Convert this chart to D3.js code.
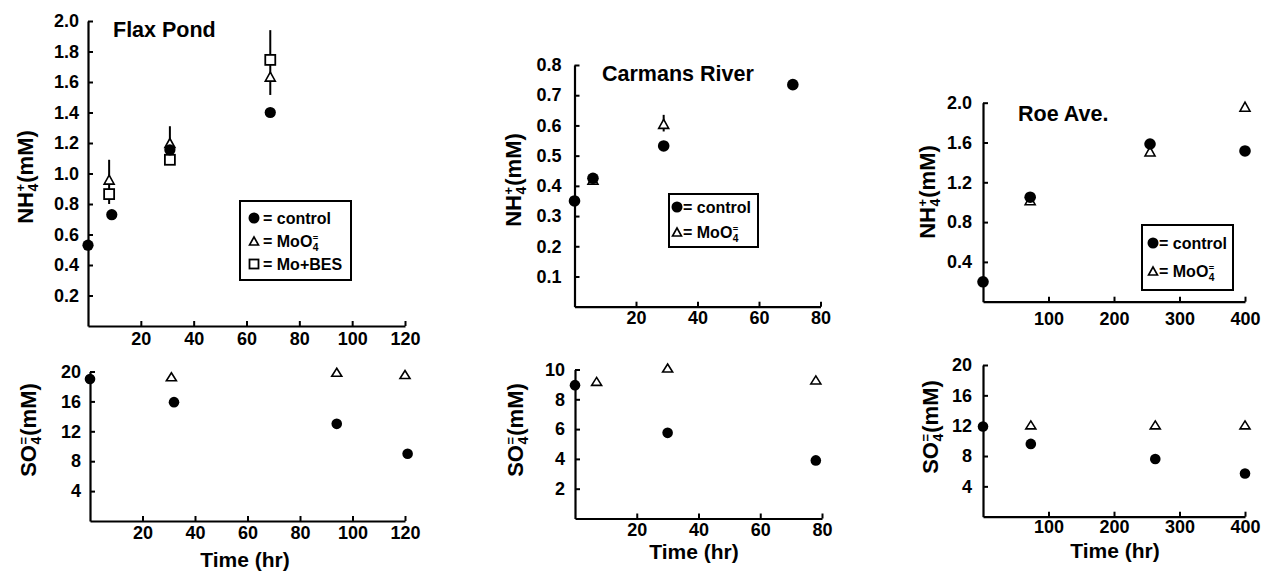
<!DOCTYPE html>
<html><head><meta charset="utf-8">
<script src="https://cdn.jsdelivr.net/npm/d3@7"></script>
<style>
body{margin:0;background:#fff}
svg{display:block;font-family:"Liberation Sans",Arial,sans-serif;font-weight:bold}
</style></head><body>
<svg id="c" width="1267" height="574"></svg>
<script>
// ---------------- data ----------------
// Flax Pond – NH4+
const flaxNH4ControlTime = [0, 9, 31, 69];
const flaxNH4Control     = [0.53, 0.73, 1.155, 1.40];
const flaxNH4MoTime      = [8, 31, 69];
const flaxNH4Mo          = [0.96, 1.20, 1.635];
const flaxNH4BesTime     = [8, 31, 69];
const flaxNH4Bes         = [0.865, 1.09, 1.745];
const flaxNH4ErrTime     = [8, 31, 69];
const flaxNH4ErrLow      = [0.80, 1.20, 1.515];
const flaxNH4ErrHigh     = [1.09, 1.31, 1.94];
// Carmans River – NH4+
const carNH4ControlTime = [0, 6, 29, 71];
const carNH4Control     = [0.35, 0.425, 0.532, 0.735];
const carNH4MoTime      = [6, 29];
const carNH4Mo          = [0.42, 0.605];
const carNH4ErrTime     = [29];
const carNH4ErrLow      = [0.58];
const carNH4ErrHigh     = [0.635];
// Roe Ave. – NH4+
const roeNH4ControlTime = [0, 72, 255, 400];
const roeNH4Control     = [0.20, 1.05, 1.585, 1.515];
const roeNH4MoTime      = [72, 255, 400];
const roeNH4Mo          = [1.02, 1.51, 1.96];
// Flax Pond – SO4=
const flaxSO4ControlTime = [0, 32, 94, 121];
const flaxSO4Control     = [19.0, 15.9, 13.0, 9.0];
const flaxSO4MoTime      = [31, 94, 120];
const flaxSO4Mo          = [19.3, 19.9, 19.6];
// Carmans River – SO4=
const carSO4ControlTime = [0, 30, 78];
const carSO4Control     = [8.95, 5.75, 3.9];
const carSO4MoTime      = [7, 30, 78];
const carSO4Mo          = [9.2, 10.1, 9.3];
// Roe Ave. – SO4=
const roeSO4ControlTime = [0, 73, 263, 400];
const roeSO4Control     = [11.9, 9.6, 7.6, 5.7];
const roeSO4MoTime      = [73, 263, 400];
const roeSO4Mo          = [12.1, 12.1, 12.1];
// tick values
const flaxXTicks    = [20, 40, 60, 80, 100, 120];
const carXTicks     = [20, 40, 60, 80];
const roeXTicks     = [100, 200, 300, 400];
const flaxNH4YTicks = [0.2, 0.4, 0.6, 0.8, 1.0, 1.2, 1.4, 1.6, 1.8, 2.0];
const carNH4YTicks  = [0.1, 0.2, 0.3, 0.4, 0.5, 0.6, 0.7, 0.8];
const roeNH4YTicks  = [0.4, 0.8, 1.2, 1.6, 2.0];
const flaxSO4YTicks = [4, 8, 12, 16, 20];
const carSO4YTicks  = [2, 4, 6, 8, 10];
const roeSO4YTicks  = [4, 8, 12, 16, 20];
const titles = ["Flax Pond", "Carmans River", "Roe Ave."];
const legendLabels = ["control", "MoO", "Mo+BES"];

// ---------------- helpers ----------------
const svg = d3.select("#c");
const zip = (a, b) => a.map((v, i) => [v, b[i]]);

function rich(parent, parts, size, anchor) {
  const g = parent.append("g");
  let x = 0;
  parts.forEach(p => {
    if (p.t !== undefined) {
      const t = g.append("text").attr("x", x).attr("y", 0).attr("font-size", size).text(p.t);
      x += t.node().getComputedTextLength();
    } else {
      let w = 0;
      if (p.sup) {
        const s = g.append("text").attr("x", x + 0.5).attr("y", -size * 0.38)
          .attr("font-size", size * 0.58).text(p.sup);
        w = Math.max(w, s.node().getComputedTextLength());
      }
      if (p.sub) {
        const s = g.append("text").attr("x", x + 0.5).attr("y", size * 0.22)
          .attr("font-size", size * 0.64).text(p.sub);
        w = Math.max(w, s.node().getComputedTextLength());
      }
      x += w + 1.5;
    }
  });
  if (anchor === "middle") g.selectAll("text").attr("transform", `translate(${-x / 2},0)`);
  return g;
}

function triPath(cx, cy, w, h) {
  return `M${cx},${cy - h / 2}L${cx + w / 2},${cy + h / 2}L${cx - w / 2},${cy + h / 2}Z`;
}
function drawDots(g, pts, r) {
  g.selectAll(null).data(pts).join("circle")
    .attr("cx", d => d[0]).attr("cy", d => d[1]).attr("r", r).attr("fill", "#000");
}
function drawTris(g, pts, w, h) {
  g.selectAll(null).data(pts).join("path")
    .attr("d", d => triPath(d[0], d[1], w, h))
    .attr("fill", "#fff").attr("stroke", "#000").attr("stroke-width", 1.6);
}
function drawSquares(g, pts, s) {
  g.selectAll(null).data(pts).join("rect")
    .attr("x", d => d[0] - s / 2).attr("y", d => d[1] - s / 2).attr("width", s).attr("height", s)
    .attr("fill", "#fff").attr("stroke", "#000").attr("stroke-width", 1.8);
}

// ---------------- panels ----------------
const NH4 = [{t: "NH"}, {sup: "+", sub: "4"}, {t: "(mM)"}];
const SO4 = [{t: "SO"}, {sup: "=", sub: "4"}, {t: " (mM)"}];

const panels = [
  {x: [88, 405], y: [326, 21], xd: [0, 120], yd: [0, 2], xt: flaxXTicks, yt: flaxNH4YTicks, fmt: d3.format(".1f"),
   xpad: 6, ypad: 9, ylab: NH4, ylabPos: [25, 177], title: titles[0], titlePos: [113, 37],
   control: zip(flaxNH4ControlTime, flaxNH4Control), mo: zip(flaxNH4MoTime, flaxNH4Mo),
   bes: zip(flaxNH4BesTime, flaxNH4Bes),
   err: flaxNH4ErrTime.map((t, i) => [t, flaxNH4ErrLow[i], flaxNH4ErrHigh[i]]),
   legend: {box: [240, 201, 111, 79], sx: 254, tx: 263, rows: [218, 241, 264], n: 3}, r: 5.6},
  {x: [574.5, 820.5], y: [306.7, 65], xd: [0, 80], yd: [0, 0.8], xt: carXTicks, yt: carNH4YTicks, fmt: d3.format(".1f"),
   xpad: 5, ypad: 13, ylab: NH4, ylabPos: [513, 180], title: titles[1], titlePos: [602, 81],
   control: zip(carNH4ControlTime, carNH4Control), mo: zip(carNH4MoTime, carNH4Mo), bes: [],
   err: carNH4ErrTime.map((t, i) => [t, carNH4ErrLow[i], carNH4ErrHigh[i]]),
   legend: {box: [669, 194, 89, 53], sx: 677, tx: 683, rows: [207, 232], n: 2}, r: 5.8},
  {x: [983, 1245], y: [301.7, 102.7], xd: [0, 400], yd: [0, 2], xt: roeXTicks, yt: roeNH4YTicks, fmt: d3.format(".1f"),
   xpad: 11, ypad: 11, ylab: NH4, ylabPos: [927, 192], title: titles[2], titlePos: [1018, 121],
   control: zip(roeNH4ControlTime, roeNH4Control), mo: zip(roeNH4MoTime, roeNH4Mo), bes: [], err: [],
   legend: {box: [1142, 225, 91, 65], sx: 1153, tx: 1159, rows: [243, 271], n: 2}, r: 5.8},
  {x: [90, 405], y: [521, 371.5], xd: [0, 120], yd: [0, 20], xt: flaxXTicks, yt: flaxSO4YTicks, fmt: d3.format("d"),
   xpad: 5, ypad: 9, ylab: SO4, ylabPos: [28, 430], xlabPos: [245, 567],
   control: zip(flaxSO4ControlTime, flaxSO4Control), mo: zip(flaxSO4MoTime, flaxSO4Mo), bes: [], err: [], r: 5.3},
  {x: [575, 822], y: [518.5, 369.5], xd: [0, 80], yd: [0, 10], xt: carXTicks, yt: carSO4YTicks, fmt: d3.format("d"),
   xpad: 5, ypad: 10, ylab: SO4, ylabPos: [515, 430], xlabPos: [694, 559],
   control: zip(carSO4ControlTime, carSO4Control), mo: zip(carSO4MoTime, carSO4Mo), bes: [], err: [], r: 5.3},
  {x: [983, 1245], y: [516.7, 365], xd: [0, 400], yd: [0, 20], xt: roeXTicks, yt: roeSO4YTicks, fmt: d3.format("d"),
   xpad: 4, ypad: 11, ylab: SO4, ylabPos: [930, 427], xlabPos: [1115, 558],
   control: zip(roeSO4ControlTime, roeSO4Control), mo: zip(roeSO4MoTime, roeSO4Mo), bes: [], err: [], r: 5.3}
];

panels.forEach(p => {
  const x = d3.scaleLinear().domain(p.xd).range(p.x);
  const y = d3.scaleLinear().domain(p.yd).range(p.y);
  const g = svg.append("g");

  const ax = g.append("g").attr("transform", `translate(0,${p.y[0]})`)
    .call(d3.axisBottom(x).tickValues(p.xt).tickSize(-5).tickSizeOuter(0).tickPadding(p.xpad).tickFormat(d3.format("d")));
  const ay = g.append("g").attr("transform", `translate(${p.x[0]},0)`)
    .call(d3.axisLeft(y).tickValues(p.yt).tickSize(-5).tickSizeOuter(0).tickPadding(p.ypad).tickFormat(p.fmt));
  [ax, ay].forEach(a => {
    a.select(".domain").attr("stroke", "#000").attr("stroke-width", 2.2);
    a.selectAll(".tick line").attr("stroke", "#000").attr("stroke-width", 2);
    a.selectAll(".tick text").attr("font-size", 18).attr("font-family", "Liberation Sans, Arial, sans-serif")
      .attr("font-weight", "bold").attr("fill", "#000");
  });

  const yl = svg.append("g").attr("transform", `translate(${p.ylabPos[0]},${p.ylabPos[1]}) rotate(-90)`);
  rich(yl, p.ylab, 22, "middle").attr("transform", "translate(0,8)");

  if (p.title) svg.append("text").attr("x", p.titlePos[0]).attr("y", p.titlePos[1])
    .attr("font-size", 21.5).text(p.title);
  if (p.xlabPos) svg.append("text").attr("x", p.xlabPos[0]).attr("y", p.xlabPos[1])
    .attr("text-anchor", "middle").attr("font-size", 21).text("Time (hr)");

  g.selectAll(null).data(p.err).join("line")
    .attr("x1", d => x(d[0])).attr("x2", d => x(d[0]))
    .attr("y1", d => y(d[1])).attr("y2", d => y(d[2]))
    .attr("stroke", "#000").attr("stroke-width", 2);

  const top = p.y[0] < 400;
  drawTris(g, p.mo.map(d => [x(d[0]), y(d[1])]), 10, top ? 9 : 8);
  drawSquares(g, p.bes.map(d => [x(d[0]), y(d[1])]), 10);
  drawDots(g, p.control.map(d => [x(d[0]), y(d[1])]), p.r);

  if (p.legend) {
    const L = p.legend;
    const lg = svg.append("g");
    lg.append("rect").attr("x", L.box[0]).attr("y", L.box[1]).attr("width", L.box[2]).attr("height", L.box[3])
      .attr("fill", "#fff").attr("stroke", "#000").attr("stroke-width", 2);
    drawDots(lg, [[L.sx, L.rows[0]]], 5.5);
    drawTris(lg, [[L.sx, L.rows[1]]], 9, 8);
    if (L.n > 2) drawSquares(lg, [[L.sx, L.rows[2]]], 9);
    const fs = 16;
    lg.append("text").attr("x", L.tx).attr("y", L.rows[0] + 6).attr("font-size", fs).text("= " + legendLabels[0]);
    const r2 = rich(lg, [{t: "= " + legendLabels[1]}, {sup: "=", sub: "4"}], fs);
    r2.attr("transform", `translate(${L.tx},${L.rows[1] + 6})`);
    if (L.n > 2) lg.append("text").attr("x", L.tx).attr("y", L.rows[2] + 6).attr("font-size", fs).text("= " + legendLabels[2]);
  }
});
</script>
</body></html>
